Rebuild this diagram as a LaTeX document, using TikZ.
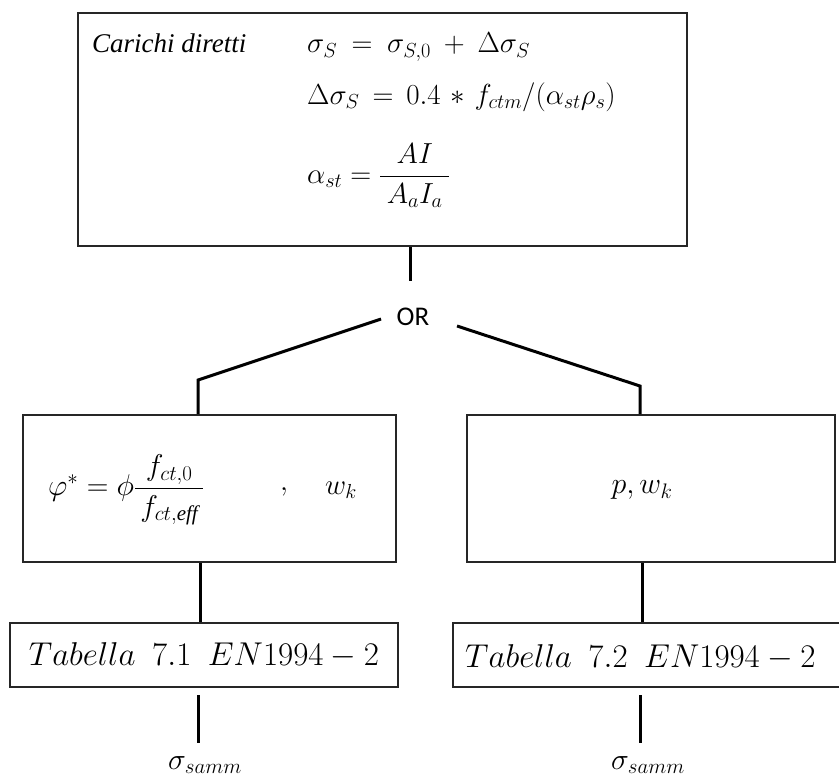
\RequirePackage{fix-cm}
\documentclass[tikz,border=0pt]{standalone}
\usepackage{amsmath}
\usepackage{fontspec}
\setmainfont{Liberation Serif}
\newfontfamily\orfont{Carlito}
\begin{document}
\begin{tikzpicture}[x=1pt,y=-1pt,
  box/.style={draw=black!85, line width=1.8pt, inner sep=0pt},
  conn/.style={line width=3pt, black},
  txt/.style={inner sep=0pt}]
\useasboundingbox (0,0) rectangle (839,782);
% boxes
\node[box, minimum width=609pt, minimum height=233pt] (top) at (382.5,129.5) {};
\node[box, minimum width=373pt, minimum height=147pt] (ml) at (209.5,488.5) {};
\node[box, minimum width=368pt, minimum height=147pt] (mr) at (651,488.5) {};
\node[box, minimum width=388pt, minimum height=64pt] (tl) at (204,655) {};
\node[box, minimum width=389pt, minimum height=64pt] (tr) at (647.5,655) {};
% texts in top box
\node[txt, anchor=west] (car) at (92,43) {\fontsize{27}{31}\selectfont\itshape Carichi diretti};
\node[txt, anchor=west] (e1) at (307,47) {\fontsize{29}{34}\selectfont\thickmuskip=9mu\medmuskip=8mu $\sigma_S=\sigma_{S,0}+\Delta\sigma_S$};
\node[txt, anchor=west] (e2) at (307,97) {\fontsize{29}{34}\selectfont\thickmuskip=8mu\medmuskip=6mu $\Delta\sigma_S=0.4*f_{ctm}/(\alpha_{st}\rho_s)$};
\node[txt, anchor=west] (e3) at (307,176) {\fontsize{29}{34}\selectfont $\alpha_{st}=\dfrac{\mkern6mu AI\mkern6mu}{\mkern4mu A_aI_a\mkern4mu}$};
% OR
\node[txt] (or) at (413,317) {\fontsize{27}{30}\selectfont\orfont OR};
% middle texts
\node[txt, anchor=west] (phi) at (48,490) {\fontsize{30}{34}\selectfont $\varphi^*=\phi\dfrac{\mkern3mu f_{ct,0}\mkern3mu}{\mkern3mu f_{ct,\mathit{eff}}\mkern3mu}$};
\node[txt] (cm) at (284,492) {\fontsize{29}{34}\selectfont $,$};
\node[txt, anchor=west] (wk) at (325,490) {\fontsize{29}{34}\selectfont $w_k$};
\node[txt] (pw) at (642,490) {\fontsize{30}{34}\selectfont $p,w_k$};
% tabella texts
\node[txt] (t1) at (204,655) {\fontsize{33}{38}\selectfont $Tabella\ \ 7.1\ \ EN1994-2$};
\node[txt, anchor=west] (t2) at (465,657) {\fontsize{33}{38}\selectfont $Tabella\ \ 7.2\ \ EN1994-2$};
% sigma samm
\node[txt] (s1) at (205,765) {\fontsize{30}{32}\selectfont $\sigma_{samm}$};
\node[txt] (s2) at (648,765) {\fontsize{30}{32}\selectfont $\sigma_{samm}$};
% coordinates
\coordinate (a1) at (410,281);
\coordinate (l0) at (381,319);
\coordinate (l1) at (198,380);
\coordinate (r0) at (457,326);
\coordinate (r1) at (640,386);
\coordinate (b1) at (198,695);
\coordinate (b2) at (198,743);
\coordinate (c1) at (640,695);
\coordinate (c2) at (640,743);
% connectors
\draw[conn] (top.south -| a1) -- (a1);
\draw[conn] (l0) -- (l1) -- (l1 |- ml.north);
\draw[conn] (r0) -- (r1) -- (r1 |- mr.north);
\draw[conn] (ml.south -| 200,0) -- (tl.north -| 200,0);
\draw[conn] (mr.south -| 642,0) -- (tr.north -| 642,0);
\draw[conn] (b1) -- (b2);
\draw[conn] (c1) -- (c2);
\end{tikzpicture}
\end{document}
